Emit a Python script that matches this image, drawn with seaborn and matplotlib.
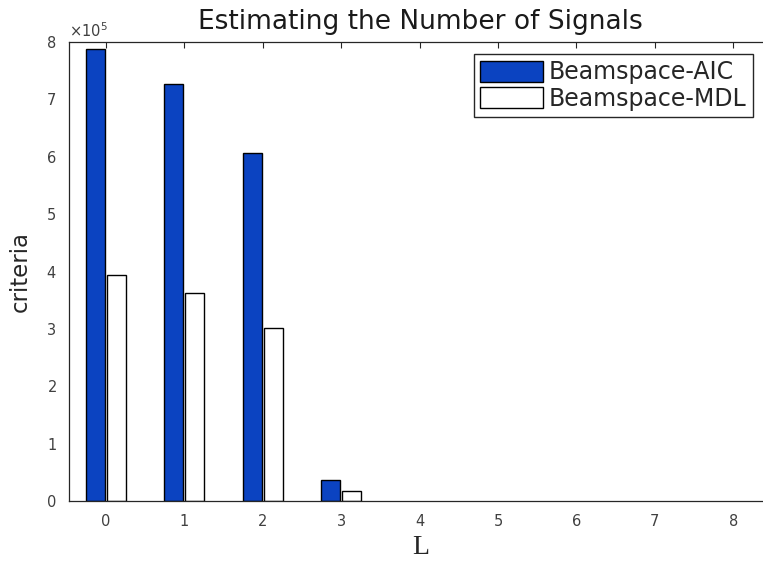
import matplotlib
matplotlib.use("Agg")
import matplotlib.pyplot as plt
import matplotlib.ticker as mticker
import pandas as pd
import seaborn as sns

# values (criteria, in units of 1e5)
L_values = [0, 1, 2, 3, 4, 5, 6, 7, 8]
aic_vals = [7.87, 7.26, 6.05, 0.36, 0, 0, 0, 0, 0]
mdl_vals = [3.93, 3.62, 3.01, 0.17, 0, 0, 0, 0, 0]
series_names = ["Beamspace-AIC", "Beamspace-MDL"]
series_colors = ["#0b43c1", "#ffffff"]

df = pd.DataFrame({
    "L": L_values * 2,
    "criteria": [v * 1e5 for v in aic_vals] + [v * 1e5 for v in mdl_vals],
    "method": [series_names[0]] * len(L_values) + [series_names[1]] * len(L_values),
})

sns.set_theme(style="white")
plt.rcParams["font.family"] = ["DejaVu Sans"]

fig = plt.figure(figsize=(7.63, 5.62), dpi=100)
ax = fig.add_axes([0.0904, 0.1094, 0.922, 0.8166])

sns.barplot(data=df, x="L", y="criteria", hue="method", order=L_values,
            hue_order=series_names, palette=series_colors, width=0.54, gap=0.1,
            edgecolor="black", linewidth=1.0, saturation=1, ax=ax)

ax.legend(loc="upper right", bbox_to_anchor=(0.972, 0.972), fontsize=17,
          frameon=True, fancybox=False, edgecolor="#262626", framealpha=1,
          handlelength=2.67, handleheight=0.97, handletextpad=0.25,
          borderpad=0.25, labelspacing=0.1, borderaxespad=0)

# zero-height bars would only double the bottom spine
for p in ax.patches:
    if p.get_width() > 0 and p.get_height() == 0:
        p.set_visible(False)

ax.set_xlim(-0.47, 8.5)
ax.set_ylim(0, 8e5)
ax.yaxis.set_major_locator(mticker.MultipleLocator(1e5))
fmt = mticker.ScalarFormatter(useMathText=True)
fmt.set_powerlimits((0, 0))
ax.yaxis.set_major_formatter(fmt)
ax.yaxis.get_offset_text().set_fontsize(10.5)
ax.yaxis.get_offset_text().set_color("#404040")

for side in ["top", "bottom", "left", "right"]:
    ax.spines[side].set_visible(True)
    ax.spines[side].set_color("#262626")
    ax.spines[side].set_linewidth(0.9)
ax.tick_params(direction="in", top=True, right=True, length=4, width=0.8,
               labelsize=10.5, labelcolor="#404040", color="#262626")
ax.tick_params(axis="y", pad=9)
ax.tick_params(axis="x", pad=10)

ax.set_title("Estimating the Number of Signals", fontsize=19, color="#1a1a1a", pad=9)
ax.set_xlabel("L", fontsize=20, family=["Liberation Serif"], color="#262626", labelpad=4)
ax.set_ylabel("criteria", fontsize=16.5, color="#262626", labelpad=10)

fig.savefig("out.png", dpi=100)
